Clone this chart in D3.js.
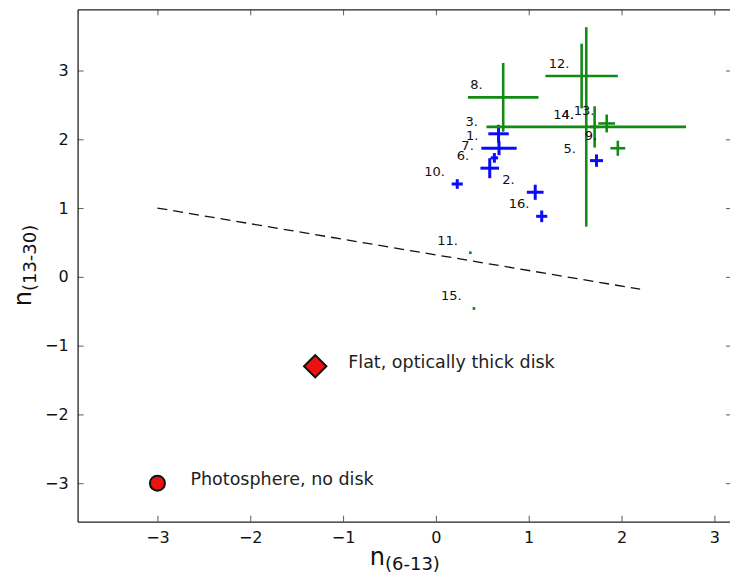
<!DOCTYPE html>
<html>
<head>
<meta charset="utf-8">
<script src="https://cdn.jsdelivr.net/npm/d3@7"></script>
<style>
  html, body { margin: 0; padding: 0; background: #ffffff; }
  svg { display: block; font-family: "DejaVu Sans", sans-serif; }
</style>
</head>
<body>
<svg id="chart" width="730" height="578"></svg>
<script>
// Source labels and spectral indices n(6-13) vs n(13-30) with uncertainties
const names  = ["1.", "2.", "3.", "4.", "5.", "6.", "7.", "8.", "9.", "10.", "11.", "12.", "13.", "14.", "15.", "16."];
const nShort = [0.68, 1.07, 0.675, 1.71, 1.73, 0.58, 0.63, 0.725, 1.96, 0.23, 0.37, 1.57, 1.84, 1.62, 0.41, 1.14];
const nLong  = [1.87, 1.23, 2.08, 2.18, 1.69, 1.58, 1.73, 2.61, 1.87, 1.35, 0.35, 2.92, 2.23, 2.18, -0.46, 0.88];
const errShort = [0.19, 0.09, 0.11, 0.05, 0.07, 0.10, 0.04, 0.38, 0.08, 0.06, 0.012, 0.39, 0.09, 1.075, 0.012, 0.06];
const errLong  = [0.10, 0.11, 0.13, 0.30, 0.09, 0.145, 0.07, 0.50, 0.11, 0.07, 0.016, 0.47, 0.13, 1.45, 0.016, 0.085];
const group    = ["b", "b", "b", "g", "b", "b", "b", "g", "g", "b", "g", "g", "g", "g", "g", "b"];

// Dividing line
const lineX = [-3.0, 2.2];
const lineY = [1.0, -0.18];

// Reference model positions
const refX = [-1.3, -3.0];
const refY = [-1.3, -3.0];
const refShape = ["diamond", "circle"];
const refText = ["Flat, optically thick disk", "Photosphere, no disk"];

// Axis ticks
const xTicks = [-3, -2, -1, 0, 1, 2, 3];
const yTicks = [-3, -2, -1, 0, 1, 2, 3];

const colors = { b: "#0a0aff", g: "#138a13" };

const svg = d3.select("#chart");
const plotL = 77.6, plotR = 732, plotT = 9.3, plotB = 521.7;

const x = d3.scaleLinear().domain([-3.86, 3.19]).range([plotL, plotR]);
const y = d3.scaleLinear().domain([-3.56, 3.89]).range([plotB, plotT]);

const fmt = d => (d < 0 ? "\u2212" + Math.abs(d) : String(d));

// Axes with inward ticks on all four sides
const axB = svg.append("g").attr("transform", `translate(0,${plotB})`)
  .call(d3.axisBottom(x).tickValues(xTicks).tickFormat(fmt).tickSizeInner(-6).tickSizeOuter(0).tickPadding(9.5));
const axT = svg.append("g").attr("transform", `translate(0,${plotT})`)
  .call(d3.axisTop(x).tickValues(xTicks).tickFormat("").tickSizeInner(-6).tickSizeOuter(0));
const axL = svg.append("g").attr("transform", `translate(${plotL},0)`)
  .call(d3.axisLeft(y).tickValues(yTicks).tickFormat(fmt).tickSizeInner(-6).tickSizeOuter(0).tickPadding(9));
const axR = svg.append("g").attr("transform", `translate(${plotR},0)`)
  .call(d3.axisRight(y).tickValues(yTicks).tickFormat("").tickSizeInner(-6).tickSizeOuter(0));

[axB, axT, axL, axR].forEach(g => {
  g.select(".domain").attr("stroke", "#222").attr("stroke-width", 1.3);
  g.selectAll(".tick line").attr("stroke", "#333").attr("stroke-width", 0.8);
  g.selectAll(".tick text").attr("font-size", 16).attr("fill", "#111")
    .attr("font-family", "DejaVu Sans, sans-serif");
});

// Dashed dividing line
svg.append("line")
  .attr("x1", x(lineX[0])).attr("y1", y(lineY[0]))
  .attr("x2", x(lineX[1])).attr("y2", y(lineY[1]))
  .attr("stroke", "#111").attr("stroke-width", 1.3)
  .attr("stroke-dasharray", "10,6");

// Error-bar crosses
const pts = names.map((n, i) => ({
  name: n, x: nShort[i], y: nLong[i], ex: errShort[i], ey: errLong[i], g: group[i]
}));
const order = pts.filter(d => d.g === "b").concat(pts.filter(d => d.g === "g"));
const crosses = svg.append("g");
order.forEach(d => {
  const c = colors[d.g];
  const w = d.g === "b" ? 3 : 2.6;
  crosses.append("line")
    .attr("x1", x(d.x - d.ex)).attr("x2", x(d.x + d.ex))
    .attr("y1", y(d.y)).attr("y2", y(d.y))
    .attr("stroke", c).attr("stroke-width", w);
  crosses.append("line")
    .attr("x1", x(d.x)).attr("x2", x(d.x))
    .attr("y1", y(d.y - d.ey)).attr("y2", y(d.y + d.ey))
    .attr("stroke", c).attr("stroke-width", w);
});

// Source labels
svg.append("g").selectAll("text").data(pts).join("text")
  .attr("x", d => x(d.x) - 33)
  .attr("y", d => y(d.y) - 8)
  .attr("font-size", 13)
  .attr("fill", "#111")
  .text(d => d.name);

// Reference models
refX.forEach((rx, i) => {
  const px = x(rx), py = y(refY[i]);
  if (refShape[i] === "diamond") {
    svg.append("path")
      .attr("d", d3.symbol(d3.symbolSquare, 250)())
      .attr("transform", `translate(${px},${py}) rotate(45)`)
      .attr("fill", "#ee1111").attr("stroke", "#111").attr("stroke-width", 2);
  } else {
    svg.append("circle")
      .attr("cx", px).attr("cy", py).attr("r", 7.5)
      .attr("fill", "#ee1111").attr("stroke", "#111").attr("stroke-width", 2);
  }
  svg.append("text")
    .attr("x", px + 33).attr("y", py + 2)
    .attr("font-size", 17.5).attr("fill", "#222")
    .text(refText[i]);
});

// Axis titles
const xl = svg.append("text")
  .attr("x", (plotL + plotR) / 2).attr("y", 565)
  .attr("text-anchor", "middle").attr("fill", "#111");
xl.append("tspan").attr("font-size", 24).text("n");
xl.append("tspan").attr("font-size", 18).attr("dy", 5).text("(6-13)");

const yl = svg.append("text")
  .attr("transform", `translate(31,${(plotT + plotB) / 2}) rotate(-90)`)
  .attr("text-anchor", "middle").attr("fill", "#111");
yl.append("tspan").attr("font-size", 24).text("n");
yl.append("tspan").attr("font-size", 18).attr("dy", 5).text("(13-30)");
</script>
</body>
</html>
